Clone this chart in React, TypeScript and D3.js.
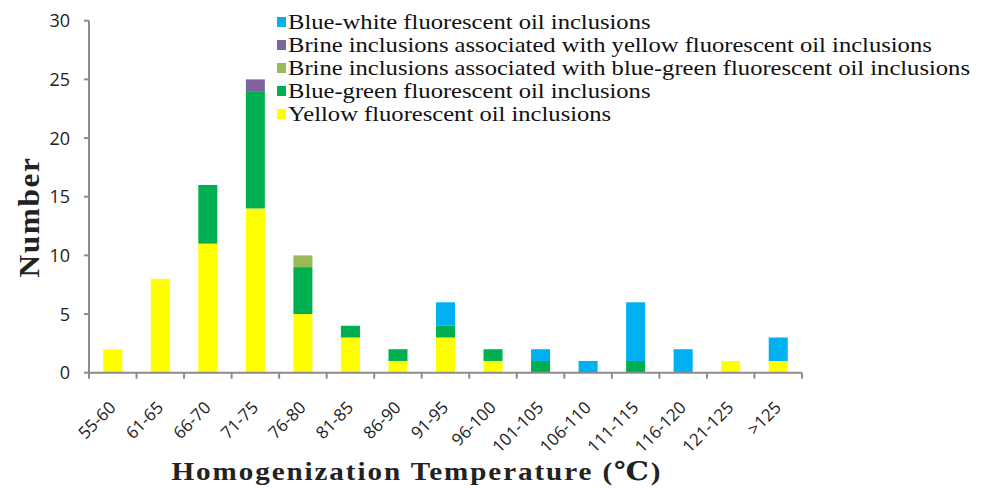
import React from "react";
import * as d3 from "d3";

const categories = [
  "55-60", "61-65", "66-70", "71-75", "76-80", "81-85", "86-90", "91-95",
  "96-100", "101-105", "106-110", "111-115", "116-120", "121-125", ">125",
];

const yellowOil = [2, 8, 11, 14, 5, 3, 1, 3, 1, 0, 0, 0, 0, 1, 1];
const blueGreenOil = [0, 0, 5, 10, 4, 1, 1, 1, 1, 1, 0, 1, 0, 0, 0];
const brineBlueGreen = [0, 0, 0, 0, 1, 0, 0, 0, 0, 0, 0, 0, 0, 0, 0];
const brineYellow = [0, 0, 0, 1, 0, 0, 0, 0, 0, 0, 0, 0, 0, 0, 0];
const blueWhiteOil = [0, 0, 0, 0, 0, 0, 0, 2, 0, 1, 1, 5, 2, 0, 2];

const yTicks = [0, 5, 10, 15, 20, 25, 30];

// stacked bottom to top
const series = [
  { key: "yellow", label: "Yellow fluorescent oil inclusions", color: "#FFFF00", values: yellowOil },
  { key: "bg", label: "Blue-green fluorescent oil inclusions", color: "#00B050", values: blueGreenOil },
  { key: "brineBg", label: "Brine inclusions associated with blue-green fluorescent oil inclusions", color: "#9BBB59", values: brineBlueGreen },
  { key: "brineY", label: "Brine inclusions associated with yellow fluorescent oil inclusions", color: "#8064A2", values: brineYellow },
  { key: "bw", label: "Blue-white fluorescent oil inclusions", color: "#00B0F0", values: blueWhiteOil },
];

const W = 986;
const H = 488;
const left = 89;
const right = 802;
const top = 20.7;
const bottom = 372.7;

export default function App() {
  const x = d3.scaleBand<string>().domain(categories).range([left, right]).paddingInner(0.6).paddingOuter(0.3);
  const y = d3.scaleLinear().domain([0, 30]).range([bottom, top]);

  const rows = categories.map((c, i) => {
    const r: Record<string, number | string> = { cat: c };
    series.forEach((s) => (r[s.key] = s.values[i]));
    return r;
  });
  const stack = d3.stack<Record<string, number | string>>().keys(series.map((s) => s.key));
  const stacked = stack(rows as any);

  const step = (right - left) / categories.length;
  const tickXs = d3.range(categories.length + 1).map((i) => left + i * step);

  const legendItems = [...series].reverse();

  return (
    <svg width={W} height={H} style={{ position: "absolute", left: 0, top: 0, background: "#fff" }}>
      {/* bars */}
      {stacked.map((layer, li) => (
        <g key={series[li].key} fill={series[li].color}>
          {layer.map((d, i) =>
            d[1] - d[0] > 0 ? (
              <rect
                key={i}
                x={x(categories[i])!}
                y={y(d[1])}
                width={x.bandwidth()}
                height={y(d[0]) - y(d[1])}
              />
            ) : null
          )}
        </g>
      ))}

      {/* y axis */}
      <line x1={left} x2={left} y1={top} y2={bottom} stroke="#8c8c8c" strokeWidth={2} />
      {yTicks.map((t) => (
        <g key={t}>
          <line x1={left - 5} x2={left} y1={y(t)} y2={y(t)} stroke="#8c8c8c" strokeWidth={2} />
          <text
            x={70}
            y={y(t)}
            dy="0.36em"
            textAnchor="end"
            fontFamily="'Open Sans', sans-serif"
            fontSize={18}
            fill="#222"
          >
            {t}
          </text>
        </g>
      ))}

      {/* x axis */}
      <line x1={left} x2={right} y1={bottom} y2={bottom} stroke="#8c8c8c" strokeWidth={2} />
      {tickXs.map((tx, i) => (
        <line key={i} x1={tx} x2={tx} y1={bottom} y2={bottom + 6} stroke="#8c8c8c" strokeWidth={2} />
      ))}
      {categories.map((c) => {
        const cx = x(c)! + x.bandwidth() / 2 + 4;
        const cy = bottom + 36;
        return (
          <text
            key={c}
            transform={`translate(${cx},${cy}) rotate(-45)`}
            textAnchor="end"
            fontFamily="'Open Sans', sans-serif"
            fontSize={17}
            fill="#222"
          >
            {c}
          </text>
        );
      })}

      {/* axis titles */}
      <text
        transform={`translate(39,217) rotate(-90) scale(1.08,1)`}
        textAnchor="middle"
        fontFamily="'Liberation Serif', 'DejaVu Serif', serif"
        fontWeight="bold"
        fontSize={29}
        letterSpacing={1.5}
        fill="#222"
      >
        Number
      </text>
      <text
        transform={`translate(417,480) scale(1.12,1)`}
        textAnchor="middle"
        fontFamily="'Liberation Serif', 'DejaVu Serif', serif"
        fontWeight="bold"
        fontSize={26}
        letterSpacing={1.7}
        fill="#222"
      >
        Homogenization Temperature (℃)
      </text>

      {/* legend */}
      {legendItems.map((s, i) => {
        const ly = 22 + i * 23;
        return (
          <g key={s.key}>
            <rect x={277} y={ly - 5} width={9} height={10} fill={s.color} />
            <text
              transform={`translate(288,${ly}) scale(1.2,1)`}
              dy="0.34em"
              fontFamily="'Liberation Serif', 'DejaVu Serif', serif"
              fontSize={20.5}
              fill="#111"
            >
              {s.label}
            </text>
          </g>
        );
      })}
    </svg>
  );
}
